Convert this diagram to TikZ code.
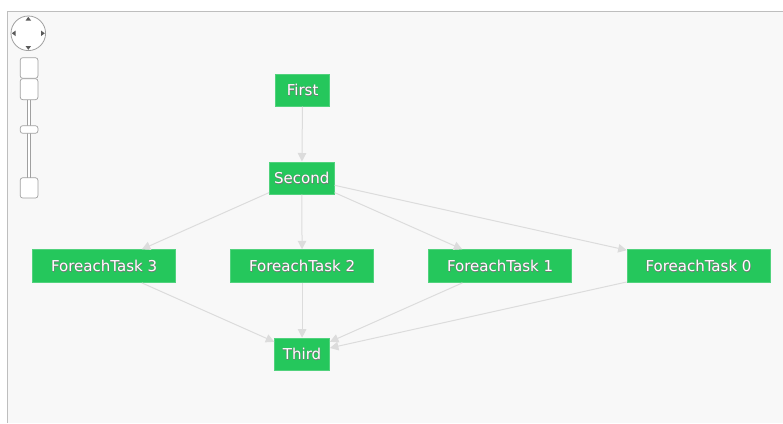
\documentclass[tikz,border=0pt]{standalone}
\usepackage{fontspec}
\setmainfont{DejaVu Sans}
\usetikzlibrary{arrows.meta}
\definecolor{taskgreen}{RGB}{37,199,92}
\definecolor{edgegray}{RGB}{220,220,220}
\definecolor{framegray}{RGB}{190,190,190}
\definecolor{panel}{RGB}{248,248,248}
\definecolor{navgray}{RGB}{160,160,160}
\definecolor{navdark}{RGB}{90,90,90}
\definecolor{halogray}{RGB}{120,120,120}
\newcommand\halotext[1]{\leavevmode\rlap{\textcolor{halogray}{\raisebox{-0.45pt}{\hspace{0.45pt}#1}}}\rlap{\textcolor{halogray}{\raisebox{0.3pt}{\hspace{-0.3pt}#1}}}#1}
\tikzset{
  task/.style={fill=taskgreen, draw=taskgreen!80!white, line width=0.6pt, inner sep=0pt,
    text=white, font=\fontsize{15}{18}\selectfont, anchor=north west},
  flow/.style={draw=edgegray, line width=1pt, -{Triangle[length=8.5pt,width=8.5pt,fill=edgegray]}},
  navbtn/.style={draw=navgray, fill=white, line width=0.7pt, rounded corners=2.5pt},
}
\begin{document}
\begin{tikzpicture}[x=1pt,y=-1pt]
\useasboundingbox (0,0) rectangle (783,423);
\fill[white] (0,0) rectangle (783,423);
% frame
\fill[panel] (7,11) rectangle (783,423);
\draw[framegray, line width=1pt] (7,423) -- (7,11) -- (783,11);

% navigation control
\draw[navgray, fill=white, line width=0.8pt] (28.3,33.3) circle (17.3);
\fill[navdark] (28.3,16.8) -- (31,20.5) -- (25.6,20.5) -- cycle;
\fill[navdark] (28.3,49.8) -- (31,46.1) -- (25.6,46.1) -- cycle;
\fill[navdark] (11.8,33.3) -- (15.5,30.6) -- (15.5,36) -- cycle;
\fill[navdark] (44.8,33.3) -- (41.1,30.6) -- (41.1,36) -- cycle;
\draw[navgray, line width=0.6pt] (27.6,99.7) -- (27.6,177.7);
\draw[navgray, line width=0.6pt] (30.6,99.7) -- (30.6,177.7);
\fill[white] (28,99.7) rectangle (30.2,177.7);
\node[navbtn, minimum width=17.7pt, minimum height=20.6pt, inner sep=0pt] (zin) at (29.1,68) {};
\node[navbtn, minimum width=17.7pt, minimum height=21pt, inner sep=0pt] (zin2) at (29.1,89.2) {};
\node[navbtn, minimum width=17.7pt, minimum height=7.6pt, inner sep=0pt] (handle) at (29.1,129.5) {};
\node[navbtn, minimum width=17.7pt, minimum height=20.3pt, inner sep=0pt] (zout) at (29.1,187.9) {};

% task nodes
\node[task, minimum width=54pt, minimum height=32.5pt] (first) at (275.3,73.5) {\halotext{First}};
\node[task, minimum width=65pt, minimum height=32.5pt] (second) at (269,161.5) {\halotext{Second}};
\node[task, minimum width=143pt, minimum height=33pt] (f3) at (32.3,249.3) {\halotext{ForeachTask 3}};
\node[task, minimum width=143pt, minimum height=33pt] (f2) at (230.3,249.3) {\halotext{ForeachTask 2}};
\node[task, minimum width=143pt, minimum height=33pt] (f1) at (428.3,249.3) {\halotext{ForeachTask 1}};
\node[task, minimum width=143pt, minimum height=33pt] (f0) at (626.7,249.3) {\halotext{ForeachTask 0}};
\node[task, minimum width=55pt, minimum height=32.3pt] (third) at (274.3,337.7) {\halotext{Third}};

% connectors
\draw[flow] (first) -- (second);
\draw[flow] (second) -- (f3);
\draw[flow] (second) -- (f2);
\draw[flow] (second) -- (f1);
\draw[flow] (second) -- (f0);
\draw[flow] (f3) -- (third);
\draw[flow] (f2) -- (third);
\draw[flow] (f1) -- (third);
\draw[flow] (f0) -- (third);
\end{tikzpicture}
\end{document}
